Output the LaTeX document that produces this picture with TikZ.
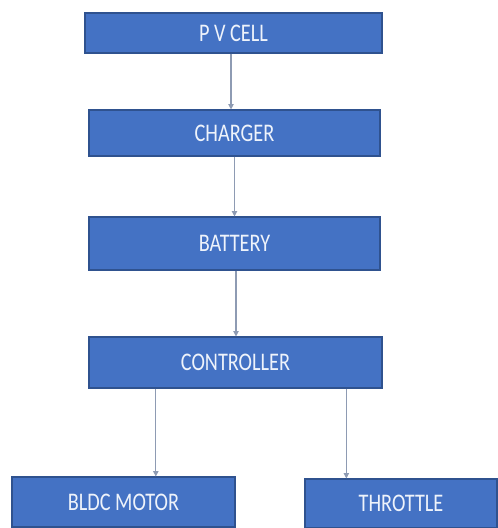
\documentclass[tikz,border=0pt]{standalone}
\usepackage{fontspec}
\setmainfont{Carlito}
\usetikzlibrary{arrows.meta,calc}
\definecolor{boxblue}{HTML}{4472C4}
\definecolor{boxedge}{HTML}{2F528F}
\definecolor{wire}{HTML}{8E9BB3}
\definecolor{label}{HTML}{EEF3FB}

\begin{document}
\begin{tikzpicture}[x=0.75pt,y=-0.75pt,>={Triangle[length=4pt,width=4pt]},
  block/.style={draw=boxedge,thick,fill=boxblue,text=label,inner sep=0pt,
    font=\addfontfeature{FakeStretch=0.8}\fontsize{19}{22}\selectfont},
  flow/.style={->,wire,line width=0.8pt}]
  \useasboundingbox (0,0) rectangle (497,528);

  % Supply chain
  \node[block,minimum width=222.75pt,minimum height=30pt] (pv) at (233.5,33) {P V CELL};
  \node[block,minimum width=218.25pt,minimum height=34.5pt] (charger) at (234.5,133) {CHARGER};
  \node[block,minimum width=218.25pt,minimum height=39.75pt] (battery) at (234.5,243.5) {BATTERY};
  \node[block,minimum width=219.75pt,minimum height=38.25pt] (ctrl) at (235.5,362.5) {CONTROLLER};

  % Outputs of the controller
  \node[block,minimum width=167.25pt,minimum height=37.5pt] (motor) at (123.5,502) {BLDC MOTOR};
  \node[block,minimum width=144pt,minimum height=36.75pt] (throttle) at (401,503.5) {THROTTLE};

  \coordinate (tapA) at ($(pv.south)+(-2.5,0)$);
  \coordinate (tapB) at ($(battery.south)+(1.5,0)$);
  \coordinate (tapL) at ($(ctrl.south west)!0.229!(ctrl.south east)$);
  \coordinate (tapR) at ($(ctrl.south west)!0.877!(ctrl.south east)$);

  \draw[flow] (tapA) -- (tapA |- charger.north);
  \draw[flow] (charger.south) -- (charger.south |- battery.north);
  \draw[flow] (tapB) -- (tapB |- ctrl.north);
  \draw[flow] (tapL) -- (tapL |- motor.north);
  \draw[flow] (tapR) -- (tapR |- throttle.north);
\end{tikzpicture}
\end{document}
